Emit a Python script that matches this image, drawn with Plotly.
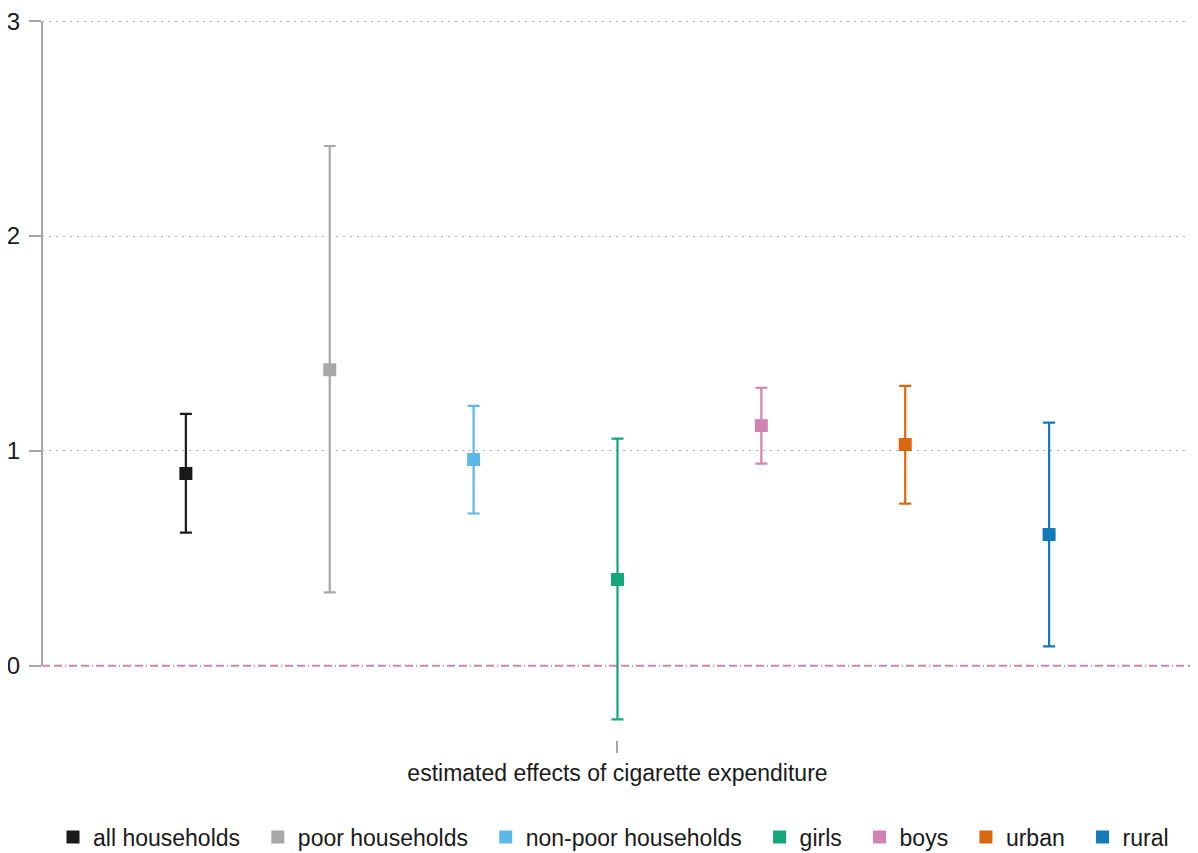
import plotly.graph_objects as go

groups = ["all households", "poor households", "non-poor households", "girls", "boys", "urban", "rural"]
estimates = [0.895, 1.378, 0.960, 0.402, 1.118, 1.030, 0.611]
ci_upper = [1.173, 2.419, 1.210, 1.057, 1.294, 1.303, 1.132]
ci_lower = [0.620, 0.342, 0.709, -0.249, 0.941, 0.755, 0.091]
colors = ["#1a1a1a", "#a8a8a8", "#5db8ea", "#13a77b", "#d283b3", "#d9670f", "#127ab7"]
x_label = "estimated effects of cigarette expenditure"
y_ticks = [0, 1, 2, 3]

NBSP = "\u00a0"
n = len(groups)
fig = go.Figure()
for i, g in enumerate(groups):
    off = i - (n - 1) / 2
    fig.add_trace(go.Scatter(
        x=[off], y=[estimates[i]], name=g + NBSP * 2, mode="markers",
        marker=dict(symbol="square", size=13, color=colors[i]),
        error_y=dict(type="data", symmetric=False,
                     array=[ci_upper[i] - estimates[i]],
                     arrayminus=[estimates[i] - ci_lower[i]],
                     color=colors[i], thickness=2.2, width=6),
    ))

# zero reference line
fig.add_shape(type="line", xref="paper", x0=0, x1=1, yref="y", y0=0, y1=0,
              line=dict(color="#cf86b3", width=2, dash="8px,4px,8px,3px,1px,3px"), layer="between")
# y axis line spanning tick range only
fig.add_shape(type="line", xref="paper", x0=0, x1=0, yref="y", y0=0, y1=3,
              line=dict(color="#a6a6a6", width=2), layer="between")

yr = [-0.345, 3.01]
# page has an 8px body margin: figure is 1190x845 drawn at (8,8)
fig.update_layout(
    width=1190, height=845,
    margin=dict(l=34, r=0, t=11, b=113, autoexpand=False),
    plot_bgcolor="white", paper_bgcolor="white",
    font=dict(family="Liberation Sans, Arial, sans-serif", size=23, color="#1a1a1a"),
    showlegend=True,
    legend=dict(orientation="h", x=0.5, xanchor="center",
                yref="container", y=0.019, yanchor="middle",
                font=dict(size=23), itemwidth=30, tracegroupgap=0),
    xaxis=dict(range=[-4, 4.035], tickvals=[0], ticktext=[x_label],
               showgrid=False, zeroline=False, showline=False, automargin=False,
               ticks="outside", ticklen=12, tickwidth=1.5, tickcolor="#a6a6a6",
               tickfont=dict(size=23)),
    yaxis=dict(range=yr, tickvals=[1, 2, 3],
               showgrid=True, gridcolor="#b0b0b0", griddash="2px,5px", gridwidth=1.2,
               zeroline=False, showline=False, automargin=False,
               ticks="", showticklabels=False),
    yaxis2=dict(range=yr, tickvals=y_ticks, overlaying="y", side="left",
                showgrid=False, zeroline=False, showline=False, automargin=False,
                ticks="outside", ticklen=12, tickwidth=2, tickcolor="#a6a6a6",
                ticklabelstandoff=4, ticklabeloverflow="allow", tickfont=dict(size=24)),
)
# invisible trace to show y2 ticks (including 0 without a dotted gridline)
fig.add_trace(go.Scatter(x=[0], y=[0], yaxis="y2", mode="markers",
                         marker=dict(opacity=0), showlegend=False, hoverinfo="skip"))
fig.write_html("out.html")
